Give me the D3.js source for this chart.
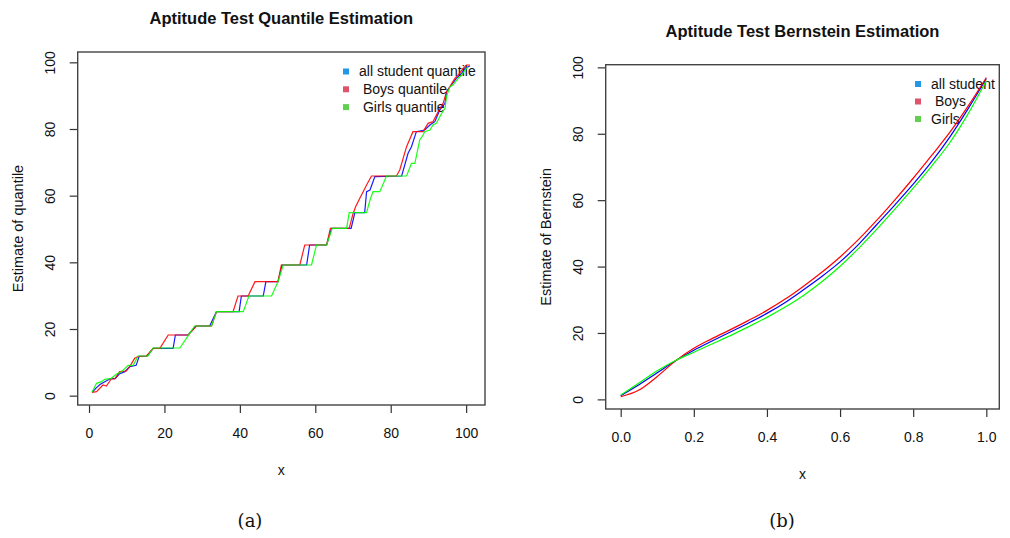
<!DOCTYPE html>
<html>
<head>
<meta charset="utf-8">
<script src="https://cdn.jsdelivr.net/npm/d3@7/dist/d3.min.js"></script>
<style>
  body { margin: 0; background: #fff; }
  svg text { font-family: "Liberation Sans", Arial, Helvetica, sans-serif; fill: #111; }
  .leg { white-space: pre; }
</style>
</head>
<body>
<svg id="chart" width="1010" height="538"></svg>
<script>
// ---- panel (a): quantile estimates, corner points [x, y]
const allQuantile = [[0.8,1.0],[2.0,2.4],[3.0,3.4],[4.2,4.2],[5.5,5.0],[7.0,5.2],[8.0,6.5],[9.5,7.2],[10.8,8.7],[12.5,9.1],[13.3,11.8],[15.5,11.9],[17.0,14.2],[22.3,14.2],[22.9,18.2],[26.3,18.2],[28.3,20.9],[32.0,20.9],[33.8,25.2],[39.8,25.2],[40.4,29.9],[46.2,29.9],[46.9,34.2],[50.1,34.2],[51.2,39.2],[57.7,39.2],[58.5,45.2],[63.0,45.2],[64.3,50.2],[69.5,50.2],[70.5,54.9],[73.1,54.9],[73.6,61.2],[74.5,61.7],[75.8,65.7],[82.9,65.9],[84.6,72.7],[85.5,74.7],[86.8,79.2],[89.0,79.7],[90.4,81.2],[91.7,82.2],[93.0,85.7],[94.4,87.7],[94.8,91.2],[96.1,93.2],[97.4,95.2],[98.8,96.7],[99.7,98.2],[101.0,98.9]];
const boysQuantile = [[0.8,1.0],[2.0,1.2],[3.7,3.2],[4.6,2.9],[5.9,5.0],[6.8,5.0],[8.1,7.2],[9.9,7.4],[10.8,8.7],[12.1,11.2],[13.0,11.7],[15.2,11.9],[17.0,14.2],[18.8,14.2],[21.0,18.2],[26.3,18.2],[28.5,20.9],[32.5,20.9],[33.8,25.2],[38.2,25.2],[39.5,29.9],[42.2,29.9],[44.0,34.2],[50.1,34.2],[51.0,39.2],[55.9,39.2],[57.2,45.2],[63.0,45.2],[64.0,50.2],[69.0,50.2],[70.0,54.6],[70.7,56.7],[71.8,59.2],[72.7,61.2],[73.6,63.2],[74.9,65.9],[81.5,65.9],[82.4,67.7],[84.2,74.7],[85.9,79.2],[88.6,79.2],[89.9,81.7],[91.2,82.2],[92.6,85.2],[93.9,87.7],[94.8,91.2],[95.7,92.7],[97.0,95.2],[97.9,96.2],[99.2,98.2],[100.1,99.2],[101.0,99.2]];
const girlsQuantile = [[0.8,1.0],[2.0,3.7],[3.3,4.2],[4.2,4.9],[5.9,5.2],[7.3,6.5],[8.6,7.2],[10.4,9.1],[11.7,9.1],[13.0,11.9],[15.6,11.9],[17.0,14.3],[24.1,14.3],[26.3,18.0],[28.0,20.9],[32.5,20.9],[33.8,25.2],[40.9,25.2],[42.4,29.9],[48.4,29.9],[50.1,34.2],[51.5,39.2],[59.0,39.2],[60.3,45.2],[63.0,45.2],[64.5,50.2],[68.3,50.2],[69.0,54.9],[73.6,54.9],[74.5,58.7],[75.3,61.2],[77.1,61.2],[78.9,65.9],[84.2,65.9],[85.5,69.7],[86.4,69.7],[87.7,76.7],[88.6,78.2],[89.0,79.2],[90.4,79.7],[91.2,81.2],[92.1,81.7],[93.5,84.7],[94.4,86.2],[94.8,89.7],[95.7,92.7],[96.5,93.2],[97.9,95.2],[98.8,96.2],[99.7,97.7],[100.5,98.7]];

// ---- panel (b): Bernstein estimates on a shared x grid
const bernX = [0, 0.05, 0.1, 0.15, 0.2, 0.25, 0.3, 0.35, 0.4, 0.45, 0.5, 0.55, 0.6, 0.65, 0.7, 0.75, 0.8, 0.85, 0.9, 0.95, 1.0];
const allBern = [1.1, 4.4, 8.0, 11.6, 14.8, 17.6, 20.3, 23.0, 25.9, 29.2, 33.0, 37.0, 41.4, 46.6, 52.6, 58.6, 64.8, 71.5, 79.0, 87.5, 96.6];
const boysBern = [0.8, 2.8, 6.9, 11.6, 15.4, 18.3, 21.0, 23.8, 26.8, 30.2, 34.1, 38.3, 42.9, 48.1, 53.9, 60.1, 66.6, 73.4, 80.4, 88.3, 96.9];
const girlsBern = [1.3, 4.9, 8.6, 11.7, 14.2, 16.7, 19.2, 21.9, 24.7, 27.8, 31.3, 35.4, 40.1, 45.4, 51.2, 57.3, 63.6, 70.2, 77.3, 86.0, 96.0];

const ticksA = [0, 20, 40, 60, 80, 100];
const ticksBx = [0, 0.2, 0.4, 0.6, 0.8, 1.0];
const ticksBy = [0, 20, 40, 60, 80, 100];

const lineColors = ["#0000ff", "#ff0000", "#00ff00"];
const legendColors = ["#2297e6", "#df536b", "#61d04f"];
const legendA = ["all student quantile", " Boys quantile", " Girls quantile"];
const legendB = ["all student", " Boys", "Girls"];

const svg = d3.select("#chart");

// draws box, axes, titles for one panel and returns its scales
function panel(o) {
    const g = svg.append("g");
    const x = d3.scaleLinear().domain(o.xDom).range([o.left, o.right]);
    const y = d3.scaleLinear().domain(o.yDom).range([o.bottom, o.top]);

    const xAxis = g.append("g")
        .attr("transform", `translate(0,${o.bottom})`)
        .call(d3.axisBottom(x).tickValues(o.xTicks).tickFormat(o.xFmt).tickSize(8).tickSizeOuter(0).tickPadding(15));
    const yAxis = g.append("g")
        .attr("transform", `translate(${o.left},0)`)
        .call(d3.axisLeft(y).tickValues(o.yTicks).tickSize(8).tickSizeOuter(0));

    [xAxis, yAxis].forEach(a => {
        a.select(".domain").remove();
        a.selectAll("line").attr("stroke", "#333").attr("stroke-width", 1.2);
        a.selectAll("text").style("font-size", "14px").attr("fill", "#111");
    });
    // R style: y labels parallel to the axis
    yAxis.selectAll("text")
        .attr("x", 0).attr("y", -23).attr("dy", 0)
        .attr("text-anchor", "middle")
        .attr("transform", "rotate(-90)");

    g.append("rect")
        .attr("x", o.left).attr("y", o.top)
        .attr("width", o.right - o.left).attr("height", o.bottom - o.top)
        .attr("fill", "none").attr("stroke", "#444").attr("stroke-width", 1.4);

    g.append("text")
        .attr("x", (o.left + o.right) / 2).attr("y", o.top - 28)
        .attr("text-anchor", "middle")
        .style("font-size", "16.5px").style("font-weight", "bold")
        .text(o.title);
    g.append("text")
        .attr("x", (o.left + o.right) / 2).attr("y", o.bottom + 70)
        .attr("text-anchor", "middle").style("font-size", "14px")
        .text("x");
    g.append("text")
        .attr("transform", `translate(${o.left - 55},${(o.top + o.bottom) / 2}) rotate(-90)`)
        .attr("text-anchor", "middle").style("font-size", "14.5px")
        .text(o.yLabel);
    g.append("text")
        .attr("x", o.capX).attr("y", 527)
        .attr("text-anchor", "middle")
        .style("font-family", "'DejaVu Serif', 'Liberation Serif', serif")
        .style("font-size", "18px")
        .text(o.caption);

    // legend
    const leg = g.append("g");
    o.legend.forEach((t, i) => {
        const yy = o.legY + i * o.legStep;
        leg.append("rect")
            .attr("x", o.legX).attr("y", yy - 3)
            .attr("width", 6).attr("height", 6)
            .attr("fill", legendColors[i]);
        leg.append("text")
            .attr("class", "leg")
            .attr("x", o.legX + 16).attr("y", yy).attr("dy", "0.35em")
            .style("font-size", "14px")
            .text(t);
    });
    return { g, x, y };
}

// (a) quantile
const pa = panel({
    left: 77.7, right: 485, top: 52, bottom: 405,
    xDom: [-3, 105], yDom: [-2.8, 103.1],
    xTicks: ticksA, yTicks: ticksA, xFmt: d3.format("d"),
    title: "Aptitude Test Quantile Estimation",
    yLabel: "Estimate of quantile", caption: "(a)", capX: 250,
    legend: legendA, legX: 343, legY: 71.5, legStep: 17.8
});
const lineA = d3.line().x(d => pa.x(d[0])).y(d => pa.y(d[1]));
[allQuantile, boysQuantile, girlsQuantile].forEach((s, i) => {
    pa.g.append("path")
        .attr("d", lineA(s))
        .attr("fill", "none")
        .attr("stroke", lineColors[i])
        .attr("stroke-width", 1.2)
        .attr("stroke-opacity", 0.9);
});

// (b) Bernstein
const pb = panel({
    left: 605.7, right: 999.3, top: 64.7, bottom: 409,
    xDom: [-0.041, 1.0355], yDom: [-2.9, 100.8],
    xTicks: ticksBx, yTicks: ticksBy, xFmt: d3.format(".1f"),
    title: "Aptitude Test Bernstein Estimation",
    yLabel: "Estimate of Bernstein", caption: "(b)", capX: 782,
    legend: legendB, legX: 915, legY: 84, legStep: 17.5
});
const lineB = d3.line()
    .x((d, i) => pb.x(bernX[i]))
    .y(d => pb.y(d))
    .curve(d3.curveMonotoneX);
[allBern, boysBern, girlsBern].forEach((s, i) => {
    pb.g.append("path")
        .attr("d", lineB(s))
        .attr("fill", "none")
        .attr("stroke", lineColors[i])
        .attr("stroke-width", 1.2);
});
</script>
</body>
</html>
